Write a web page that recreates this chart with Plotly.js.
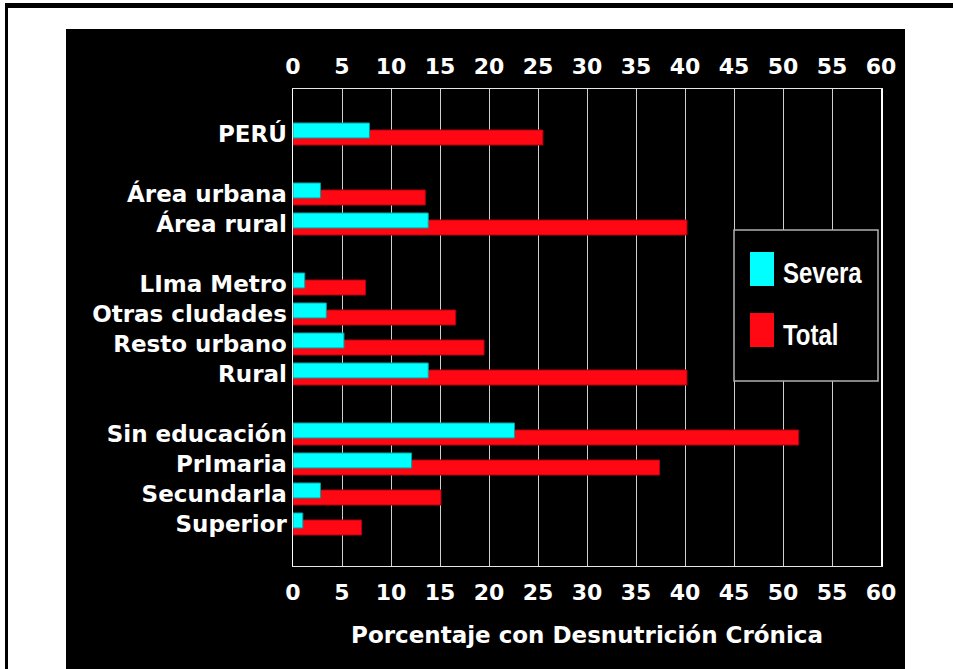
<!DOCTYPE html>
<html>
<head>
<meta charset="utf-8">
<script src="https://cdn.plot.ly/plotly-3.0.1.min.js"></script>
<style>
html,body{margin:0;padding:0;background:#fff;}
#chart{width:953px;height:669px;}
.annotation-text{transform-box:fill-box;transform-origin:left center;transform:scaleX(0.8);}
</style>
</head>
<body>
<div id="chart"></div>
<script>
// Categories (blank strings are spacer rows between groups)
const categories = ['PERÚ', ' ', 'Área urbana', 'Área rural', '  ', 'LIma Metro', 'Otras cludades', 'Resto urbano', 'Rural', '   ', 'Sin educación', 'PrImaria', 'Secundarla', 'Superior'];
const severa = [7.8, null, 2.8, 13.8, null, 1.2, 3.4, 5.2, 13.8, null, 22.6, 12.1, 2.8, 1.0];
const total  = [25.5, null, 13.5, 40.2, null, 7.4, 16.6, 19.5, 40.2, null, 51.6, 37.4, 15.1, 7.0];
const seriesNames = ['Severa', 'Total'];
const seriesColors = ['#00ffff', '#ff0814'];
const xTicks = [0, 5, 10, 15, 20, 25, 30, 35, 40, 45, 50, 55, 60];
const xTitle = 'Porcentaje con Desnutrición Crónica';

// plot area in pixels (for paper-coordinate decorations)
const W = 953, H = 669, L = 293, R = 881, T = 89, B = 566;
const px = v => (v - L) / (R - L);
const py = v => 1 - (v - T) / (B - T);

const tickFont = {family: 'DejaVu Sans', weight: 'bold', size: 22, color: '#ffffff'};
const yTickFont = {family: 'DejaVu Sans', weight: 'bold', size: 23, color: '#ffffff'};

const traces = [
  {type: 'bar', orientation: 'h', name: seriesNames[1], y: categories, x: total,
   width: 0.5, offset: -0.133, marker: {color: seriesColors[1], line: {color: '#b00010', width: 1}},
   xaxis: 'x', yaxis: 'y', showlegend: false, hoverinfo: 'x+y'},
  {type: 'bar', orientation: 'h', name: seriesNames[0], y: categories, x: severa,
   width: 0.5, offset: -0.367, marker: {color: seriesColors[0], line: {color: '#00a0a0', width: 1}},
   xaxis: 'x2', yaxis: 'y', showlegend: false, hoverinfo: 'x+y'}
];

const shapes = [
  // black panel
  {type: 'rect', xref: 'paper', yref: 'paper', x0: px(66), x1: px(905), y0: py(669), y1: py(29),
   fillcolor: '#000000', line: {width: 0}, layer: 'below'},
  // outer frame lines
  {type: 'rect', xref: 'paper', yref: 'paper', x0: px(5), x1: px(953), y0: py(8), y1: py(3),
   fillcolor: '#000000', line: {width: 0}, layer: 'below'},
  {type: 'rect', xref: 'paper', yref: 'paper', x0: px(5), x1: px(8), y0: py(669), y1: py(3),
   fillcolor: '#000000', line: {width: 0}, layer: 'below'},
  // legend box
  {type: 'rect', xref: 'paper', yref: 'paper', x0: px(734), x1: px(878), y0: py(381), y1: py(230),
   fillcolor: '#000000', line: {color: '#b0b0b0', width: 1.5}, layer: 'above'},
  {type: 'rect', xref: 'paper', yref: 'paper', x0: px(750), x1: px(774), y0: py(286), y1: py(252),
   fillcolor: seriesColors[0], line: {width: 0}, layer: 'above'},
  {type: 'rect', xref: 'paper', yref: 'paper', x0: px(750), x1: px(774), y0: py(347), y1: py(313),
   fillcolor: seriesColors[1], line: {width: 0}, layer: 'above'}
];

const legFont = {family: '"Liberation Sans", Arial, sans-serif', weight: 'bold', size: 30, color: '#ffffff'};
const annotations = [
  {xref: 'paper', yref: 'paper', x: px(781), y: py(272), xanchor: 'left', yanchor: 'middle',
   text: seriesNames[0], showarrow: false, font: legFont},
  {xref: 'paper', yref: 'paper', x: px(781), y: py(334), xanchor: 'left', yanchor: 'middle',
   text: seriesNames[1], showarrow: false, font: legFont}
];

const layout = {
  width: W, height: H,
  paper_bgcolor: '#ffffff', plot_bgcolor: '#000000',
  margin: {l: L, r: W - R, t: T, b: H - B, pad: 0},
  barmode: 'overlay',
  showlegend: false,
  xaxis: {range: [0, 60], tickvals: xTicks, ticktext: xTicks.map(String), side: 'bottom',
          showgrid: true, gridcolor: '#cfcfcf', gridwidth: 1, zeroline: false,
          showline: true, linecolor: '#e6e6e6', linewidth: 1, mirror: true,
          ticks: '', tickfont: tickFont, ticklabelstandoff: 7,
          title: {text: xTitle, font: {family: 'DejaVu Sans', weight: 'bold', size: 23, color: '#ffffff'}, standoff: 22},
          fixedrange: true},
  xaxis2: {range: [0, 60], tickvals: xTicks, ticktext: xTicks.map(String), side: 'top', overlaying: 'x',
           anchor: 'y', showgrid: false, zeroline: false, showline: false,
           ticks: '', tickfont: tickFont, ticklabelstandoff: 10, fixedrange: true},
  yaxis: {type: 'category', categoryorder: 'array', categoryarray: categories,
          range: [14.4, -1.5], showgrid: false, zeroline: false,
          showline: true, linecolor: '#ffffff', linewidth: 1.5, mirror: true,
          ticks: '', tickfont: yTickFont, ticklabelstandoff: 0, fixedrange: true},
  shapes: shapes,
  annotations: annotations
};

Plotly.newPlot('chart', traces, layout, {displayModeBar: false, staticPlot: true});
</script>
</body>
</html>
